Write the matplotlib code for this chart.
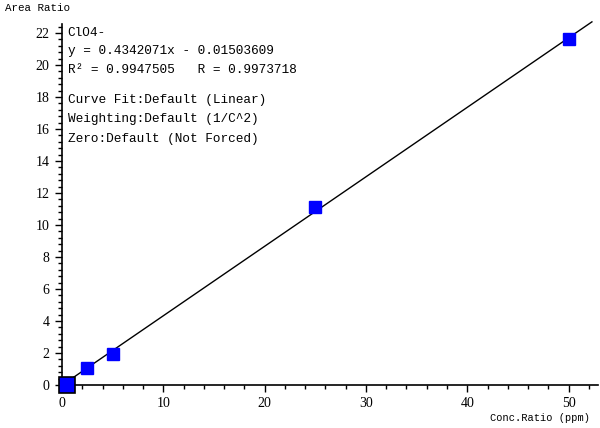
import matplotlib
matplotlib.use("Agg")
import matplotlib.pyplot as plt
from matplotlib.ticker import MultipleLocator
import numpy as np

conc = [2.5, 5.0, 25.0, 50.0]
area = [1.05, 1.95, 11.15, 21.6]
sel_conc = [0.5]
sel_area = [0.0]
slope = 0.4342071
intercept = -0.01503609
fit_range = [0.0, 52.3]

info_lines = [
    "ClO4-",
    "y = 0.4342071x - 0.01503609",
    "R\u00b2 = 0.9947505   R = 0.9973718",
]
info_lines2 = [
    "Curve Fit:Default (Linear)",
    "Weighting:Default (1/C^2)",
    "Zero:Default (Not Forced)",
]

plt.rcParams['font.family'] = ['Liberation Serif', 'DejaVu Serif']
mono = ['Liberation Mono', 'DejaVu Sans Mono']
fig = plt.figure(figsize=(6.0, 4.28), dpi=100)
ax = fig.add_axes([62/600, 43/428, 536/600, 361/428])

xf = np.array(fit_range)
ax.plot(xf, slope * xf + intercept, color='black', lw=1.0, zorder=2, clip_on=False)
ax.plot(conc, area, 's', color='#0000ff', ms=8, mec='#0000ff', zorder=3, clip_on=False)
ax.plot(sel_conc, sel_area, 's', color='#0000ff', ms=11, mec='black', mew=1.2, zorder=4, clip_on=False)

ax.set_xlim(0, 52.9)
ax.set_ylim(0, 22.56)
for s in ['top', 'right']:
    ax.spines[s].set_visible(False)
ax.spines['left'].set_linewidth(1.2)
ax.spines['bottom'].set_linewidth(1.2)
ax.xaxis.set_major_locator(MultipleLocator(10))
ax.xaxis.set_minor_locator(MultipleLocator(2))
ax.yaxis.set_major_locator(MultipleLocator(2))
ax.yaxis.set_minor_locator(MultipleLocator(0.4))
ax.tick_params(which='major', length=5, width=1, labelsize=10, direction='out')
ax.tick_params(which='minor', length=3, width=1, direction='out')
ax.tick_params(axis='y', pad=4)

ys = [21.98, 20.88, 19.68]
for t, y in zip(info_lines, ys):
    ax.text(0.55, y, t, fontsize=9.2, va='center', ha='left', family=mono)
ys2 = [17.78, 16.63, 15.38]
for t, y in zip(info_lines2, ys2):
    ax.text(0.55, y, t, fontsize=9.2, va='center', ha='left', family=mono)

fig.text(5/600, 1 - 8/428, "Area Ratio", fontsize=7.8, ha='left', va='center', family=mono)
fig.text(590/600, 1 - 418/428, "Conc.Ratio (ppm)", fontsize=7.5, ha='right', va='center', family=mono)

fig.savefig("out.png", dpi=100)
